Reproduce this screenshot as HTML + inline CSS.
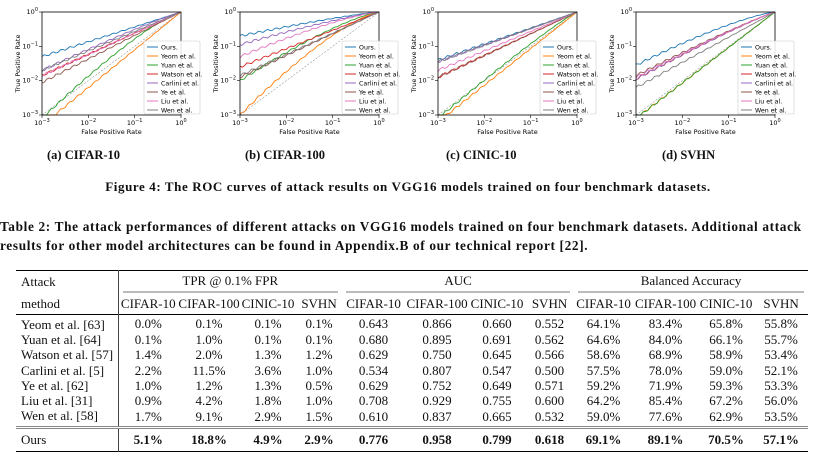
<!DOCTYPE html>
<html><head><meta charset="utf-8"><style>
body{margin:0;width:816px;height:452px;background:#fff;position:relative;overflow:hidden;font-family:"Liberation Serif",serif;}
.cap{position:absolute;font-weight:bold;font-size:12.5px;color:#111;}
table{position:absolute;left:16px;top:270px;width:792px;border-collapse:collapse;font-size:13px;color:#111;table-layout:fixed;}
td{padding:0;height:15.3px;line-height:14px;text-align:center;white-space:nowrap;overflow:visible;}
td.l{text-align:left;padding-left:5px;border-right:1px solid #444;}
.u{border-bottom:2px solid #bbb;margin:0 4px;height:20px;line-height:20px;}
</style></head><body>
<svg id="s" width="816" height="150" style="position:absolute;left:0;top:0" font-family="DejaVu Sans, sans-serif"></svg>
<div class="cap" style="left:47px;top:148px">(a) CIFAR-10</div>
<div class="cap" style="left:245px;top:148px">(b) CIFAR-100</div>
<div class="cap" style="left:446px;top:148px">(c) CINIC-10</div>
<div class="cap" style="left:662px;top:148px">(d) SVHN</div>
<div class="cap" style="left:0;width:816px;text-align:center;top:179px;font-size:13px;letter-spacing:0.6px">Figure 4: The ROC curves of attack results on VGG16 models trained on four benchmark datasets.</div>
<div class="cap" style="left:0;top:217px;width:830px;line-height:19px;font-size:13.3px;letter-spacing:0.65px;white-space:nowrap">Table 2: The attack performances of different attacks on VGG16 models trained on four benchmark datasets. Additional attack<br>results for other model architectures can be found in Appendix.B of our technical report [22].</div>
<table>
<colgroup><col style="width:102px"><col style="width:60px"><col style="width:62px"><col style="width:56px"><col style="width:46px"><col style="width:63px"><col style="width:64px"><col style="width:56px"><col style="width:49px"><col style="width:59px"><col style="width:65px"><col style="width:56px"><col style="width:54px"></colgroup>
<tr style="border-top:1.5px solid #000"><td class="l" style="height:22px">Attack</td><td colspan="4"><div class="u">TPR @ 0.1% FPR</div></td><td colspan="4"><div class="u">AUC</div></td><td colspan="4"><div class="u">Balanced Accuracy</div></td></tr>
<tr style="border-bottom:1px solid #000"><td class="l" style="height:21px">method</td><td>CIFAR-10</td><td>CIFAR-100</td><td>CINIC-10</td><td>SVHN</td><td>CIFAR-10</td><td>CIFAR-100</td><td>CINIC-10</td><td>SVHN</td><td>CIFAR-10</td><td>CIFAR-100</td><td>CINIC-10</td><td>SVHN</td></tr>
<tr><td class="l" style="padding-top:2px">Yeom et al. [63]</td><td>0.0%</td><td>0.1%</td><td>0.1%</td><td>0.1%</td><td>0.643</td><td>0.866</td><td>0.660</td><td>0.552</td><td>64.1%</td><td>83.4%</td><td>65.8%</td><td>55.8%</td></tr>
<tr><td class="l">Yuan et al. [64]</td><td>0.1%</td><td>1.0%</td><td>0.1%</td><td>0.1%</td><td>0.680</td><td>0.895</td><td>0.691</td><td>0.562</td><td>64.6%</td><td>84.0%</td><td>66.1%</td><td>55.7%</td></tr>
<tr><td class="l">Watson et al. [57]</td><td>1.4%</td><td>2.0%</td><td>1.3%</td><td>1.2%</td><td>0.629</td><td>0.750</td><td>0.645</td><td>0.566</td><td>58.6%</td><td>68.9%</td><td>58.9%</td><td>53.4%</td></tr>
<tr><td class="l">Carlini et al. [5]</td><td>2.2%</td><td>11.5%</td><td>3.6%</td><td>1.0%</td><td>0.534</td><td>0.807</td><td>0.547</td><td>0.500</td><td>57.5%</td><td>78.0%</td><td>59.0%</td><td>52.1%</td></tr>
<tr><td class="l">Ye et al. [62]</td><td>1.0%</td><td>1.2%</td><td>1.3%</td><td>0.5%</td><td>0.629</td><td>0.752</td><td>0.649</td><td>0.571</td><td>59.2%</td><td>71.9%</td><td>59.3%</td><td>53.3%</td></tr>
<tr><td class="l">Liu et al. [31]</td><td>0.9%</td><td>4.2%</td><td>1.8%</td><td>1.0%</td><td>0.708</td><td>0.929</td><td>0.755</td><td>0.600</td><td>64.2%</td><td>85.4%</td><td>67.2%</td><td>56.0%</td></tr>
<tr style="border-bottom:3px double #888"><td class="l" style="padding-bottom:2px">Wen et al. [58]</td><td>1.7%</td><td>9.1%</td><td>2.9%</td><td>1.5%</td><td>0.610</td><td>0.837</td><td>0.665</td><td>0.532</td><td>59.0%</td><td>77.6%</td><td>62.9%</td><td>53.5%</td></tr>
<tr style="border-bottom:1.5px solid #000;font-weight:bold"><td class="l" style="font-weight:normal;height:22px">Ours</td><td>5.1%</td><td>18.8%</td><td>4.9%</td><td>2.9%</td><td>0.776</td><td>0.958</td><td>0.799</td><td>0.618</td><td>69.1%</td><td>89.1%</td><td>70.5%</td><td>57.1%</td></tr>
</table>
<script>
var cols=["#1f77b4","#ff7f0e","#2ca02c","#d62728","#9467bd","#8c564b","#e377c2","#7f7f7f"];
var names=["Ours.","Yeom et al.","Yuan et al.","Watson et al.","Carlini et al.","Ye et al.","Liu et al.","Wen et al."];
var P=[
 {x:42,s:[[-1.3,1],[-3.3,1],[-3.1,1.25],[-1.85,1],[-1.7,1.1],[-2.05,1],[-1.85,1],[-1.7,1]]},
 {x:240,s:[[-0.7,1.2],[-3,1.35],[-2,1.3],[-1.6,1],[-0.95,1.2],[-1.9,1],[-1.3,1.3],[-1.85,1]]},
 {x:438,s:[[-1.4,1],[-3.2,1],[-3.1,1.1],[-1.9,1],[-1.45,1],[-1.9,1],[-1.7,1],[-1.45,1]]},
 {x:636,s:[[-1.55,1.3],[-3.1,1],[-3.1,1],[-1.95,1.1],[-1.95,1.1],[-1.85,1.1],[-1.9,1.1],[-2.2,1]]}];
var h='',W=139,T=12,H=103;
function sup(e){return '10<tspan dy="-3" font-size="5">'+e+'</tspan>';}
P.forEach(function(p,k){
 var x0=p.x;
 h+='<line x1="'+x0+'" y1="'+(T+H)+'" x2="'+(x0+W)+'" y2="'+T+'" stroke="#999" stroke-width="0.6" stroke-dasharray="2,1.5"/>';
 p.s.forEach(function(s,i){
  var d='',seed=k*13+i*7;
  for(var j=0;j<=60;j++){var t=j/60;var y=s[0]*Math.pow(1-t,s[1]);
   y+=0.04*Math.sin(seed+j*1.7)*(1-t); if(y>0)y=0; if(y<-3)y=-3;
   d+=(j?'L':'M')+(x0+t*W).toFixed(1)+','+(T-y/3*H).toFixed(1);}
  h+='<path d="'+d+'" fill="none" stroke="'+cols[i]+'" stroke-width="0.9"/>';
 });
 h+='<rect x="'+x0+'" y="'+T+'" width="'+W+'" height="'+H+'" fill="none" stroke="#000" stroke-width="0.8"/>';
 for(var e=0;e<4;e++){var yy=T+e*H/3,xx=x0+e*W/3;
  h+='<line x1="'+(x0-3)+'" y1="'+yy+'" x2="'+x0+'" y2="'+yy+'" stroke="#000" stroke-width="0.6"/>';
  h+='<text x="'+(x0-4)+'" y="'+(yy+2)+'" font-size="6.5" text-anchor="end">'+sup(e?'−'+e:'0')+'</text>';
  h+='<line x1="'+xx+'" y1="'+(T+H)+'" x2="'+xx+'" y2="'+(T+H+3)+'" stroke="#000" stroke-width="0.6"/>';
  h+='<text x="'+xx+'" y="'+(T+H+10)+'" font-size="6.5" text-anchor="middle">'+sup(e==3?'0':'−'+(3-e))+'</text>';}
 h+='<text x="'+(x0+W/2)+'" y="'+(T+H+19)+'" font-size="6.5" text-anchor="middle">False Positive Rate</text>';
 h+='<text transform="translate('+(x0-22)+','+(T+H/2)+') rotate(-90)" font-size="6.5" text-anchor="middle">True Positive Rate</text>';
 var lx=x0+W-37,ly=T+29;
 h+='<rect x="'+lx+'" y="'+ly+'" width="56" height="73" fill="#fff" fill-opacity="0.85" stroke="#ccc" stroke-width="0.6" rx="1.5"/>';
 names.forEach(function(n,i){var yy=ly+6+i*9;
  h+='<line x1="'+(lx+3)+'" y1="'+yy+'" x2="'+(lx+14)+'" y2="'+yy+'" stroke="'+cols[i]+'" stroke-width="1"/>';
  h+='<text x="'+(lx+17)+'" y="'+(yy+2.3)+'" font-size="6.3">'+n+'</text>';});
});
document.getElementById('s').innerHTML=h;
</script>
</body></html>
